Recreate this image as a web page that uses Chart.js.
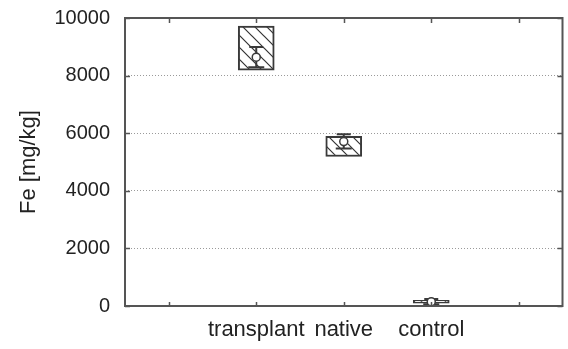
<!DOCTYPE html>
<html lang="en">
<head>
    <meta charset="UTF-8">
    <title>Fe box plot</title>
    <script src="https://cdn.jsdelivr.net/npm/chart.js"></script>
    <style>
        html, body { margin: 0; padding: 0; background: #fff; }
        #wrap { width: 568px; height: 349px; }
    </style>
</head>
<body>
    <div id="wrap"><canvas id="feChart" width="568" height="349"></canvas></div>

    <script>
        // categories on the x axis (first and last slot are empty)
        const categories = ['', 'transplant', 'native', 'control', ''];
        const groups = ['transplant', 'native', 'control'];

        // box edges, centre point and error bar ends, in mg/kg
        const boxLow   = [8190, 5190, 100];
        const boxHigh  = [9720, 5890, 200];
        const centre   = [8640, 5710, 150];
        const errLow   = [8290, 5470, 60];
        const errHigh  = [8990, 5960, 240];

        const yTicks = [0, 2000, 4000, 6000, 8000, 10000];

        const groupX = groups.map(g => categories.indexOf(g) + 1);
        const ink = '#3a3a3a';
        const fontFamily = '"Liberation Sans", Arial, sans-serif';

        // diagonal hatch for the boxes
        function makeHatch() {
            const s = 12;
            const c = document.createElement('canvas');
            c.width = s; c.height = s;
            const g = c.getContext('2d');
            g.fillStyle = '#fff';
            g.fillRect(0, 0, s, s);
            g.strokeStyle = '#333';
            g.lineWidth = 1.2;
            g.beginPath();
            g.moveTo(-1, -1); g.lineTo(s + 1, s + 1);
            g.moveTo(-s - 1, -1); g.lineTo(1, s + 1);
            g.moveTo(s - 1, -1); g.lineTo(2 * s + 1, s + 1);
            g.stroke();
            return g.createPattern(c, 'repeat');
        }

        // error bars drawn right after the boxes, under the centre markers
        const errorBars = {
            id: 'errorBars',
            afterDatasetDraw(chart, args) {
                if (args.index !== 1) return;
                const { ctx, scales: { x, y } } = chart;
                ctx.save();
                ctx.strokeStyle = ink;
                ctx.lineWidth = 2;
                groupX.forEach((gx, i) => {
                    const px = x.getPixelForValue(gx);
                    const top = y.getPixelForValue(errHigh[i]);
                    const bot = y.getPixelForValue(errLow[i]);
                    ctx.beginPath();
                    ctx.moveTo(px, top); ctx.lineTo(px, bot);
                    ctx.moveTo(px - 7, top); ctx.lineTo(px + 7, top);
                    ctx.moveTo(px - 8, bot); ctx.lineTo(px + 8, bot);
                    ctx.stroke();
                });
                ctx.restore();
            }
        };

        // frame with inward tick marks on all four sides
        const frame = {
            id: 'frame',
            afterDraw(chart) {
                const { ctx, chartArea: a, scales: { x, y } } = chart;
                ctx.save();
                ctx.strokeStyle = '#555';
                ctx.lineWidth = 2;
                ctx.strokeRect(a.left, a.top, a.right - a.left, a.bottom - a.top);
                ctx.lineWidth = 1.5;
                ctx.beginPath();
                x.ticks.forEach(t => {
                    const px = Math.round(x.getPixelForValue(t.value)) + 0.5;
                    ctx.moveTo(px, a.bottom); ctx.lineTo(px, a.bottom - 4);
                    ctx.moveTo(px, a.top); ctx.lineTo(px, a.top + 5);
                });
                y.ticks.forEach(t => {
                    const py = Math.round(y.getPixelForValue(t.value)) + 0.5;
                    ctx.moveTo(a.left, py); ctx.lineTo(a.left + 5, py);
                    ctx.moveTo(a.right, py); ctx.lineTo(a.right - 5, py);
                });
                ctx.stroke();
                ctx.restore();
            }
        };

        const ctx = document.getElementById('feChart').getContext('2d');
        new Chart(ctx, {
            type: 'bar',
            data: {
                datasets: [{
                    type: 'scatter',
                    data: groupX.map((gx, i) => ({ x: gx, y: centre[i] })),
                    pointStyle: 'circle',
                    pointRadius: 4,
                    pointBackgroundColor: '#fff',
                    pointBorderColor: ink,
                    pointBorderWidth: 1.5,
                    order: 1
                }, {
                    type: 'bar',
                    data: groupX.map((gx, i) => ({ x: gx, y: [boxLow[i], boxHigh[i]] })),
                    backgroundColor: makeHatch(),
                    borderColor: ink,
                    borderWidth: 2,
                    borderSkipped: false,
                    barThickness: 36,
                    order: 2
                }]
            },
            options: {
                responsive: false,
                animation: false,
                layout: { padding: { left: 10, right: 3, top: 18, bottom: 0 } },
                plugins: { legend: { display: false }, tooltip: { enabled: false } },
                scales: {
                    x: {
                        type: 'linear',
                        min: 0.5,
                        max: 5.5,
                        offset: false,
                        afterBuildTicks: s => { s.ticks = categories.map((c, i) => ({ value: i + 1 })); },
                        afterFit: s => { s.height = 43; s.paddingLeft = 0; s.paddingRight = 0; },
                        grid: { display: false, drawTicks: false, offset: false },
                        border: { display: false },
                        ticks: {
                            padding: 11,
                            maxRotation: 0,
                            minRotation: 0,
                            autoSkip: false,
                            color: '#222',
                            font: { family: fontFamily, size: 22 },
                            callback: v => categories[v - 1] || ''
                        }
                    },
                    y: {
                        min: 0,
                        max: 10000,
                        afterBuildTicks: s => { s.ticks = yTicks.map(v => ({ value: v })); },
                        afterFit: s => { s.width = 115; s.paddingTop = 0; s.paddingBottom = 0; },
                        grid: { color: '#9a9a9a', lineWidth: 1, drawTicks: false },
                        border: { display: false, dash: [1, 2] },
                        ticks: {
                            padding: 15,
                            color: '#222',
                            font: { family: fontFamily, size: 20 },
                            callback: v => String(v)
                        },
                        title: {
                            display: true,
                            text: 'Fe [mg/kg]',
                            color: '#222',
                            font: { family: fontFamily, size: 22 },
                            padding: { top: 6, bottom: 0 }
                        }
                    }
                }
            },
            plugins: [errorBars, frame]
        });
    </script>
</body>
</html>
